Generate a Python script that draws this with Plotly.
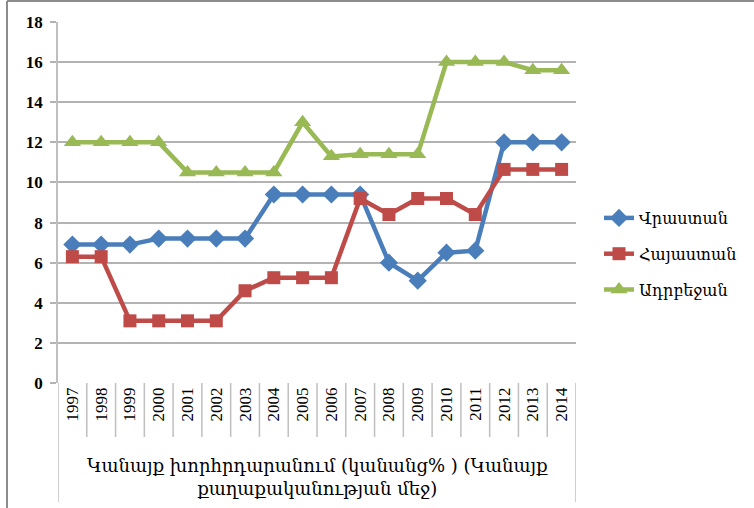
import plotly.graph_objects as go

years = [str(y) for y in range(1997, 2015)]
georgia = [6.9, 6.9, 6.9, 7.2, 7.2, 7.2, 7.2, 9.4, 9.4, 9.4, 9.4, 6.0, 5.1, 6.5, 6.6, 12.0, 12.0, 12.0]
armenia = [6.3, 6.3, 3.1, 3.1, 3.1, 3.1, 4.6, 5.25, 5.25, 5.25, 9.2, 8.4, 9.2, 9.2, 8.4, 10.65, 10.65, 10.65]
azerbaijan = [12.0, 12.0, 12.0, 12.0, 10.5, 10.5, 10.5, 10.5, 13.0, 11.3, 11.4, 11.4, 11.4, 16.0, 16.0, 16.0, 15.6, 15.6]
names = ["Վրաստան", "Հայաստան", "Ադրբեջան"]
y_ticks = list(range(0, 19, 2))
axis_title = "Կանայք խորհրդարանում (կանանց% ) (Կանայք<br>քաղաքականության մեջ)"

series = [
    (names[0], georgia, "#4A7EBB", "diamond", 14),
    (names[1], armenia, "#BE4B48", "square", 13),
    (names[2], azerbaijan, "#98B954", "triangle-up", 15),
]

fig = go.Figure()
for i, (nm, vals, col, sym, sz) in enumerate(series):
    fig.add_trace(go.Scatter(
        x=years, y=vals, name=nm, mode="lines+markers",
        line=dict(color=col, width=4.5),
        marker=dict(symbol=sym, size=sz, color=col),
        legendgroup=str(i),
    ))

W, H = 754, 508
L, R, T, B = 58, 178, 22, 125
ph = H - T - B

def py(pix):
    return (H - B - pix) / ph

def px(pix):
    return (pix - L) / (W - L - R)

shapes = []
grey = "#BFBFBF"
n = len(years)
for i in range(n + 1):
    outer = i in (0, n)
    shapes.append(dict(type="line", xref="x", yref="paper",
                       x0=i - 0.5, x1=i - 0.5, y0=0, y1=py(502 if outer else 437),
                       line=dict(color=grey, width=1.5)))
# outer frame
shapes.append(dict(type="line", xref="paper", yref="paper", x0=px(7), x1=px(7),
                   y0=py(1), y1=py(508), line=dict(color="#8C8C8C", width=2)))
shapes.append(dict(type="line", xref="paper", yref="paper", x0=px(7), x1=px(754),
                   y0=py(1), y1=py(1), line=dict(color="#8C8C8C", width=2)))

fig.update_layout(
    width=W, height=H,
    margin=dict(l=L, r=R, t=T, b=B, pad=0),
    paper_bgcolor="white", plot_bgcolor="white",
    shapes=shapes,
    showlegend=True,
    legend=dict(x=px(599), y=py(254), xanchor="left", yanchor="middle",
                font=dict(family="DejaVu Serif", size=16, color="black"),
                tracegroupgap=12, bgcolor="rgba(0,0,0,0)"),
    xaxis=dict(type="category", range=[-0.5, n - 0.5], showgrid=False, showline=False, zeroline=False,
               tickangle=-90, ticks="", tickfont=dict(family="Liberation Serif", size=17, color="black"),
               fixedrange=True),
    yaxis=dict(range=[0, 18], tickvals=y_ticks, showgrid=True, gridcolor="#B3B3B3", gridwidth=1.5,
               showline=True, linecolor=grey, linewidth=1.5, ticks="outside", ticklen=6,
               tickcolor="#B3B3B3", tickwidth=1.5, zeroline=False,
               tickfont=dict(family="Liberation Serif", size=17, color="black", weight="bold"),
               ticklabelstandoff=4),
    annotations=[dict(text=axis_title, xref="paper", yref="paper", x=0.5, y=py(477),
                      xanchor="center", yanchor="middle", showarrow=False, align="center",
                      font=dict(family="DejaVu Serif", size=18, color="black"))],
)
fig.write_html("out.html", config={"displayModeBar": False},
               post_script="document.body.style.margin='0px';document.body.style.padding='0px';")
